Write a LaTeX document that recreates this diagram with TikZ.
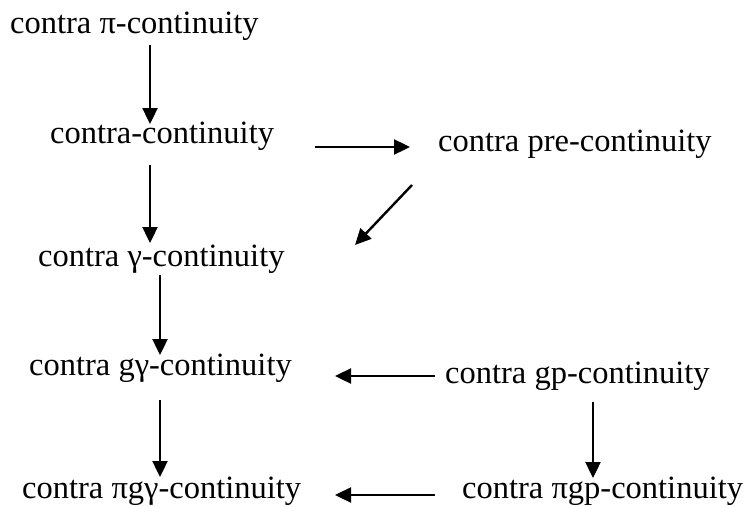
\documentclass[tikz,border=0pt]{standalone}
\usepackage{fontspec}
\setmainfont{Liberation Serif}
\usetikzlibrary{arrows.meta}
\begin{document}
\begin{tikzpicture}[x=1pt,y=-1pt,
  lbl/.style={anchor=base west,inner sep=0pt,font=\fontsize{32.5}{36}\selectfont},
  arr/.style={line width=2.4pt,-{Triangle[length=16pt,width=15pt]}}]
\useasboundingbox (0,0) rectangle (744,506);
\node[lbl] (n1) at (10,33) {contra π-continuity};
\node[lbl] (n2) at (50,143) {contra-continuity};
\node[lbl] (n3) at (38,266) {contra γ-continuity};
\node[lbl] (n4) at (29,375) {contra gγ-continuity};
\node[lbl] (n5) at (22,498) {contra πgγ-continuity};
\node[lbl] (n6) at (438,151) {contra pre-continuity};
\node[lbl] (n7) at (445,383) {contra gp-continuity};
\node[lbl] (n8) at (462,498) {contra πgp-continuity};
\draw[arr] ([shift={(140,12)}]n1.base west) -- ([shift={(100,-19)}]n2.base west);
\draw[arr] ([shift={(100,22)}]n2.base west) -- ([shift={(112,-23)}]n3.base west);
\draw[arr] ([shift={(122,9)}]n3.base west) -- ([shift={(131,-20)}]n4.base west);
\draw[arr] ([shift={(131,25)}]n4.base west) -- ([shift={(138,-21)}]n5.base west);
\draw[arr] ([shift={(148,19)}]n7.base west) -- ([shift={(131,-20)}]n8.base west);
\draw[arr] ([shift={(265,4)}]n2.base west) -- ([shift={(-28,-4)}]n6.base west);
\draw[arr] ([shift={(-26,34)}]n6.base west) -- ([shift={(317,-21)}]n3.base west);
\draw[arr] ([shift={(-10,-7)}]n7.base west) -- ([shift={(306,1)}]n4.base west);
\draw[arr] ([shift={(-27,-3)}]n8.base west) -- ([shift={(313,-3)}]n5.base west);
\end{tikzpicture}
\end{document}
